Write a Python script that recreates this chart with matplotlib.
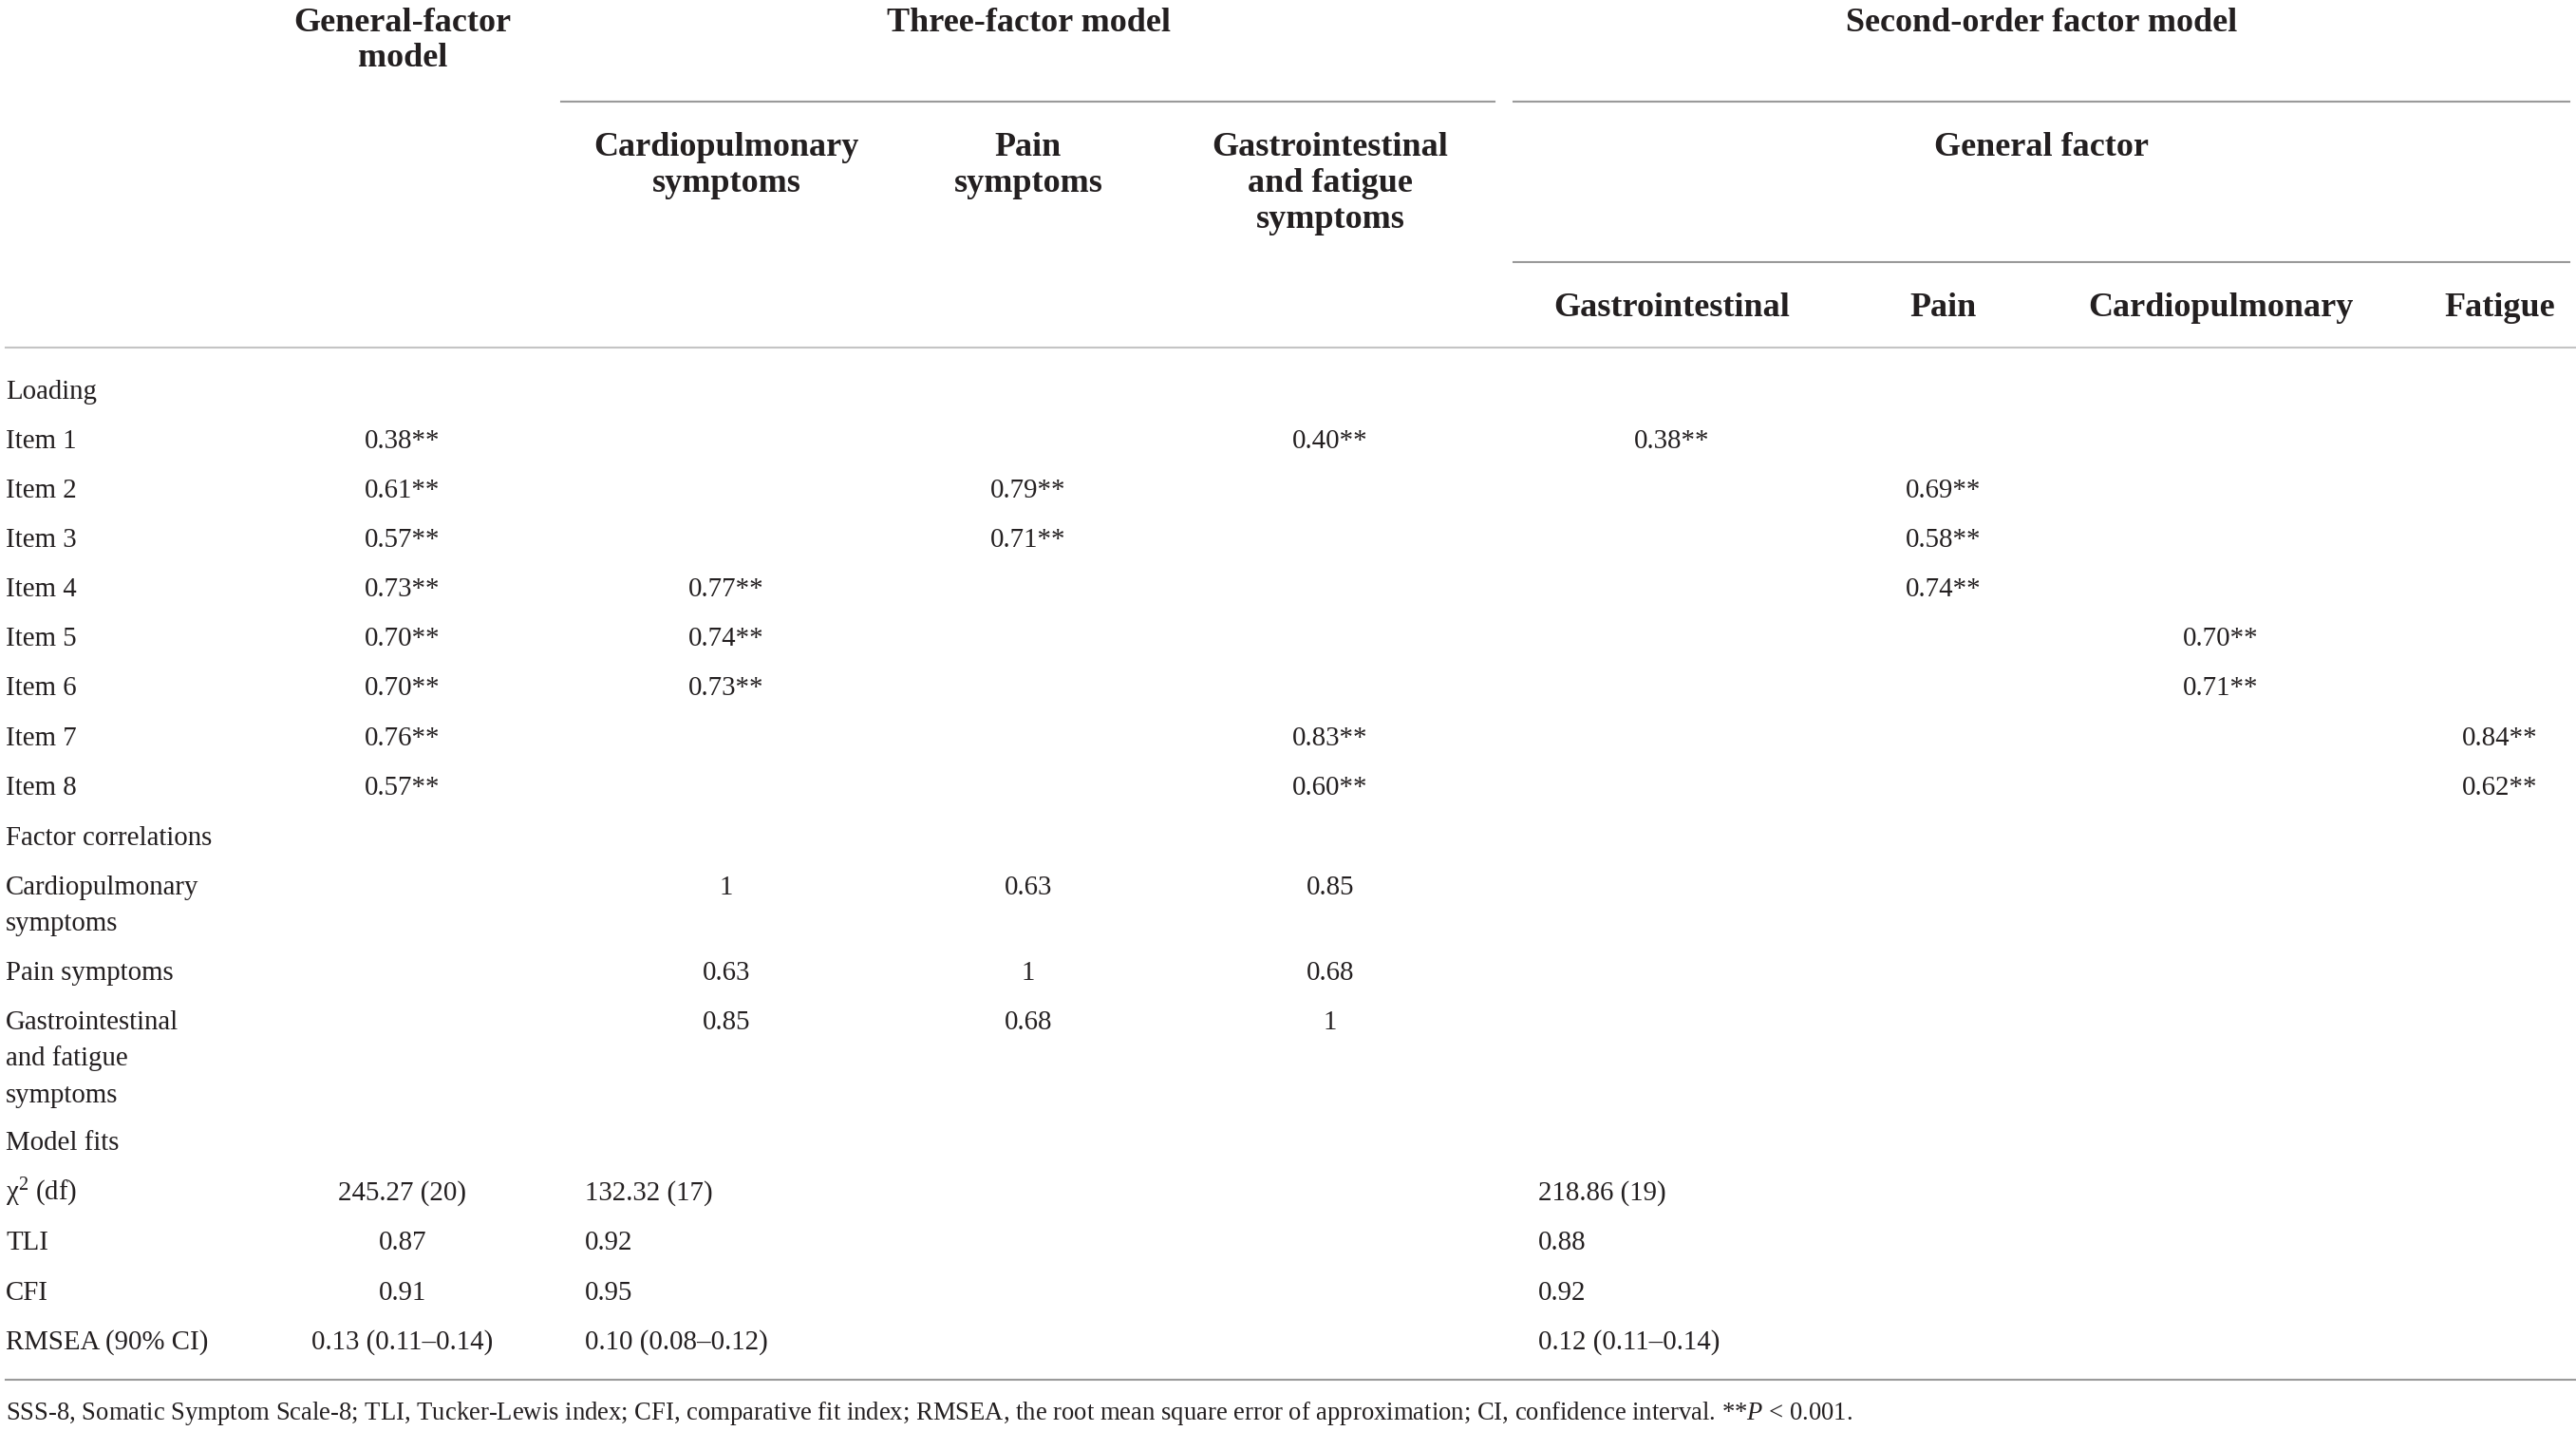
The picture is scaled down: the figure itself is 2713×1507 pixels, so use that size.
import matplotlib.pyplot as plt

plt.rcParams['font.family'] = ['Liberation Serif', 'DejaVu Serif']
plt.rcParams['mathtext.fontset'] = 'custom'
plt.rcParams['mathtext.rm'] = 'Liberation Serif'
plt.rcParams['mathtext.it'] = 'Liberation Serif:italic'

# ---- data ----
items = ["Item 1", "Item 2", "Item 3", "Item 4", "Item 5", "Item 6", "Item 7", "Item 8"]
general_load = [0.38, 0.61, 0.57, 0.73, 0.70, 0.70, 0.76, 0.57]
three_cardio = [None, None, None, 0.77, 0.74, 0.73, None, None]
three_pain = [None, 0.79, 0.71, None, None, None, None, None]
three_gastro = [0.40, None, None, None, None, None, 0.83, 0.60]
second_gastro = [0.38, None, None, None, None, None, None, None]
second_pain = [None, 0.69, 0.58, 0.74, None, None, None, None]
second_cardio = [None, None, None, None, 0.70, 0.71, None, None]
second_fatigue = [None, None, None, None, None, None, 0.84, 0.62]

factor_names = ["Cardiopulmonary\nsymptoms", "Pain symptoms", "Gastrointestinal\nand fatigue\nsymptoms"]
factor_corr = [[1, 0.63, 0.85],
               [0.63, 1, 0.68],
               [0.85, 0.68, 1]]

chi2 = [245.27, 132.32, 218.86]
chi2_df = [20, 17, 19]
tli = [0.87, 0.92, 0.88]
cfi = [0.91, 0.95, 0.92]
rmsea = [0.13, 0.10, 0.12]
rmsea_lo = [0.11, 0.08, 0.11]
rmsea_hi = [0.14, 0.12, 0.14]

footnote = ("SSS-8, Somatic Symptom Scale-8; TLI, Tucker-Lewis index; CFI, comparative fit index; "
            "RMSEA, the root mean square error of approximation; CI, confidence interval. **$P$ < 0.001.")

# ---- layout (pixel space) ----
W, H = 2713, 1507
fig = plt.figure(figsize=(W / 100, H / 100), dpi=100)
ax = fig.add_axes([0, 0, 1, 1])
ax.set_xlim(0, W)
ax.set_ylim(H, 0)
ax.axis('off')

ink = '#231f20'
body_fs = 20.8
head_fs = 26
left = 6
col_gen = 424
col_three = [765, 1083, 1401]
col_second = [1761, 2047, 2339, 2633]
fit_x = [424, 616, 1620]
fit_ha = ['center', 'left', 'left']


def body(x, y, s, ha='center', fs=body_fs):
    ax.text(x, y + 8, s, ha=ha, va='baseline', fontsize=fs, color=ink)


def head(x, y, s):
    ax.text(x, y + 11, s, ha='center', va='baseline', fontsize=head_fs,
            fontweight='bold', color=ink)


# header
head(col_gen, 22, "General-factor")
head(col_gen, 59, "model")
head(col_three[1], 22, "Three-factor model")
head(2150, 22, "Second-order factor model")
head(col_three[0], 153, "Cardiopulmonary")
head(col_three[0], 191, "symptoms")
head(col_three[1], 153, "Pain")
head(col_three[1], 191, "symptoms")
head(col_three[2], 153, "Gastrointestinal")
head(col_three[2], 191, "and fatigue")
head(col_three[2], 229, "symptoms")
head(2150, 153, "General factor")
for x, s in zip(col_second, ["Gastrointestinal", "Pain", "Cardiopulmonary", "Fatigue"]):
    head(x, 322, s)

ax.plot([591, 1574], [107, 107], color='#9a9a9a', lw=1.5)
ax.plot([1594, 2706], [107, 107], color='#9a9a9a', lw=1.5)
ax.plot([1594, 2706], [276, 276], color='#9a9a9a', lw=1.5)
ax.plot([6, W], [366, 366], color='#c4c4c4', lw=1.5)
ax.plot([6, W], [1453, 1453], color='#9a9a9a', lw=1.5)

# loadings
body(left, 412, "Loading", ha='left')
cols = [(col_gen, general_load)] + list(zip(col_three, [three_cardio, three_pain, three_gastro])) \
    + list(zip(col_second, [second_gastro, second_pain, second_cardio, second_fatigue]))
for i, name in enumerate(items):
    y = 464 + 52.1 * i
    body(left, y, name, ha='left')
    for x, vals in cols:
        if vals[i] is not None:
            body(x, y, f"{vals[i]:.2f}**")

# factor correlations
body(left, 882, "Factor correlations", ha='left')
row_y = [934, 1024, 1076]
for r, name in enumerate(factor_names):
    for k, line in enumerate(name.split("\n")):
        body(left, row_y[r] + 38.5 * k, line, ha='left')
    for c in range(3):
        v = factor_corr[r][c]
        body(col_three[c], row_y[r], "1" if v == 1 else f"{v:.2f}")

# model fits
body(left, 1203, "Model fits", ha='left')
fit_rows = [
    ("χ$^{2}$ (df)", [f"{a:.2f} ({d})" for a, d in zip(chi2, chi2_df)]),
    ("TLI", [f"{v:.2f}" for v in tli]),
    ("CFI", [f"{v:.2f}" for v in cfi]),
    ("RMSEA (90% CI)", [f"{v:.2f} ({lo:.2f}–{hi:.2f})" for v, lo, hi in zip(rmsea, rmsea_lo, rmsea_hi)]),
]
for j, (label, vals) in enumerate(fit_rows):
    y = 1256 + 52.3 * j
    body(left, y, label, ha='left')
    for x, ha, s in zip(fit_x, fit_ha, vals):
        body(x, y, s, ha=ha)

body(left, 1487, footnote, ha='left', fs=19.2)

fig.savefig("out.png", dpi=100, facecolor='white')
